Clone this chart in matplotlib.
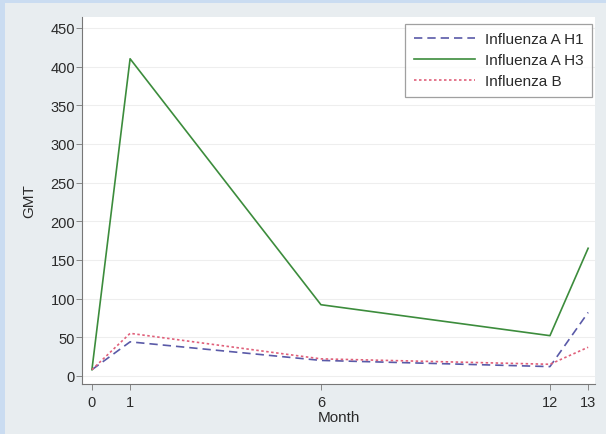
import matplotlib
matplotlib.use("Agg")
import matplotlib.pyplot as plt
from matplotlib.patches import Rectangle

months = [0, 1, 6, 12, 13]
h1 = [8, 44, 20, 12, 82]
h3 = [8, 410, 92, 52, 165]
flu_b = [8, 55, 22, 15, 37]
y_ticks = [0, 50, 100, 150, 200, 250, 300, 350, 400, 450]

plt.rcParams['font.family'] = ['Liberation Sans', 'DejaVu Sans']

fig = plt.figure(figsize=(6.06, 4.35), dpi=100, facecolor='#cadcf1')
# inner grey frame, behind the axes
fig.patches.append(Rectangle((5 / 606, 0), 1 - 5 / 606, 1 - 4 / 435,
                             transform=fig.transFigure, facecolor='#e8edf0',
                             edgecolor='none', zorder=-10))

ax = fig.add_axes([82 / 606, 1 - 385 / 435, 513 / 606, 367 / 435])
ax.set_facecolor('white')

ax.plot(months, h1, color='#5a5aa8', linestyle=(0, (5, 3)), linewidth=1.2,
        label='Influenza A H1')
ax.plot(months, h3, color='#3c8c3c', linestyle='-', linewidth=1.2,
        label='Influenza A H3')
ax.plot(months, flu_b, color='#e0607a', linestyle=(0, (1.5, 1.5)), linewidth=1.2,
        label='Influenza B')

ax.set_xlim(-0.26, 13.18)
ax.set_ylim(-10.5, 464)
ax.set_xticks(months)
ax.set_yticks(y_ticks)
ax.yaxis.grid(True, color='#eeeeee', linewidth=0.8)
ax.set_axisbelow(True)

for s in ['top', 'right']:
    ax.spines[s].set_visible(False)
for s in ['left', 'bottom']:
    ax.spines[s].set_color('#777777')
    ax.spines[s].set_linewidth(0.8)

ax.tick_params(axis='both', labelsize=10.5, labelcolor='#2a2a2a',
               color='#777777', length=4, width=0.6)
ax.tick_params(axis='y', pad=1)
ax.tick_params(axis='x', pad=4)

ax.set_xlabel('Month', fontsize=11, color='#2a2a2a', labelpad=1)
ax.set_ylabel('GMT', fontsize=11, color='#2a2a2a', labelpad=10)

leg = ax.legend(loc='upper right', fontsize=11, frameon=True, fancybox=False,
                edgecolor='#888888', handlelength=4.0, handletextpad=0.65,
                borderpad=0.55, labelspacing=0.45,
                bbox_to_anchor=(0.994, 0.981), borderaxespad=0)
leg.get_frame().set_linewidth(0.9)
for t in leg.get_texts():
    t.set_color('#2a2a2a')

fig.savefig('out.png', dpi=100, facecolor=fig.get_facecolor())
